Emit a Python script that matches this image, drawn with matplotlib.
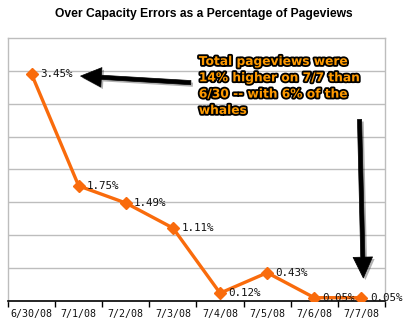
import matplotlib
matplotlib.use("Agg")
import matplotlib.pyplot as plt
import matplotlib.patheffects as pe

# data
dates = ["6/30/08", "7/1/08", "7/2/08", "7/3/08", "7/4/08", "7/5/08", "7/6/08", "7/7/08"]
error_pct = [3.45, 1.75, 1.49, 1.11, 0.12, 0.43, 0.05, 0.05]

orange = "#F96B0C"
grid_gray = "#BDBDBD"

fig = plt.figure(figsize=(4.08, 3.24), dpi=100)
ax = fig.add_axes([0.0196, 0.071, 0.924, 0.812])

x = list(range(len(dates)))
ax.plot(x, error_pct, color=orange, lw=2.4, marker="D", ms=6, mec=orange, mfc=orange, zorder=3)

for xi, v in zip(x, error_pct):
    ax.annotate(f"{v:.2f}%", (xi, v), xytext=(6, 0), textcoords="offset points",
                va="center", ha="left", fontsize=7.8, family="DejaVu Sans Mono", color="#111111",
                zorder=4)

ax.set_xlim(-0.5, len(dates) - 0.5)
ax.set_ylim(0, 4)
ax.set_yticks([i * 0.5 for i in range(1, 8)])
ax.yaxis.grid(True, color=grid_gray, lw=1)
ax.set_axisbelow(True)
ax.tick_params(axis="y", left=False, labelleft=False)

ax.set_xticks(x)
ax.set_xticklabels(dates, fontsize=7.2, family="DejaVu Sans Mono", color="#111111")
ax.tick_params(axis="x", length=0, pad=6)
ax.set_xticks([i - 0.5 for i in range(len(dates) + 1)], minor=True)
ax.tick_params(axis="x", which="minor", length=4, width=1, color="black", direction="out")

for s in ["left", "top", "right"]:
    ax.spines[s].set_color(grid_gray)
    ax.spines[s].set_linewidth(1)
ax.spines["bottom"].set_color("black")
ax.spines["bottom"].set_linewidth(1.2)

fig.text(0.5, 0.958, "Over Capacity Errors as a Percentage of Pageviews",
         ha="center", va="center", fontsize=8.7, fontweight="bold", family="Liberation Sans")

# callout text with black outline
txt = "Total pageviews were\n14% higher on 7/7 than\n6/30 -- with 6% of the\nwhales"
ax.text(3.55, 3.74, txt, ha="left", va="top", fontsize=8.8, fontweight="bold",
        family="DejaVu Sans", color="#FF9A00", linespacing=1.33, zorder=6,
        path_effects=[pe.withStroke(linewidth=2.6, foreground="black")])

arrow_style = dict(arrowstyle="simple,head_width=1.4,head_length=1.5,tail_width=0.3",
                   color="black", lw=0.5, shrinkA=0, shrinkB=0)
shadow = [pe.SimplePatchShadow(offset=(1.5, -1.5), alpha=0.3), pe.Normal()]

ax.annotate("", xy=(1.04, 3.42), xytext=(3.38, 3.32),
            arrowprops=dict(**arrow_style, path_effects=shadow), zorder=5)
ax.annotate("", xy=(7.04, 0.35), xytext=(6.96, 2.76),
            arrowprops=dict(**arrow_style, path_effects=shadow), zorder=5)

fig.savefig("out.png", dpi=100)
